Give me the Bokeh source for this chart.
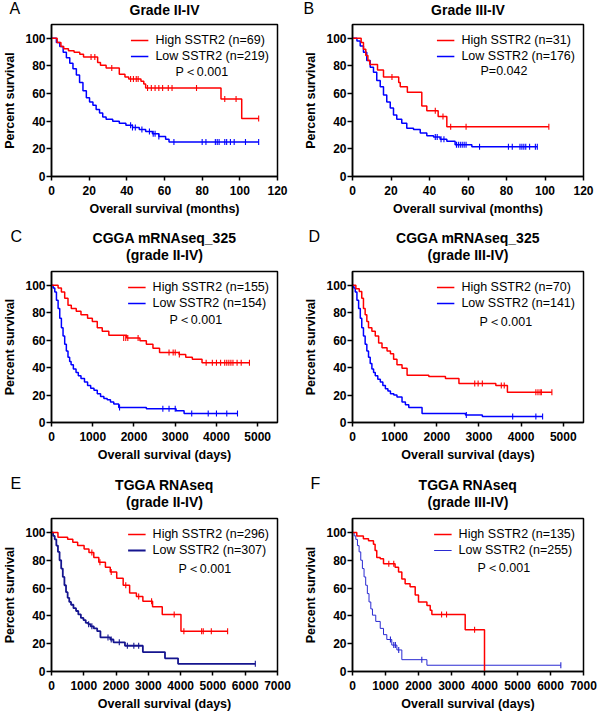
import numpy as np
from bokeh.plotting import figure
from bokeh.models import Range1d, FixedTicker, Title, Label, Legend, LegendItem
from bokeh.layouts import column, row
from bokeh.embed import file_html
from bokeh.resources import INLINE

FONT = "Liberation Sans"
RED = "#ff0000"

# ---------------- Panel A (months) ----------------
a_hi_t = [0, 3, 5, 6.5, 9, 12, 15, 17, 24.5, 26, 29, 36, 39, 41, 47.5, 49, 50, 90, 101, 110]
a_hi_s = [100, 97, 94, 92.5, 91, 90, 88.5, 86.5, 82.5, 80.5, 78.5, 74, 72, 70.5, 69, 67, 64, 56, 42, 42]
a_hi_ct = [21, 23, 32, 42, 43.5, 45, 46, 51, 53, 55, 57, 59, 62, 64, 77, 92, 98, 110]
a_hi_cs = [86.5, 86.5, 78.5, 70.5, 70.5, 70.5, 70.5, 64, 64, 64, 64, 64, 64, 64, 64, 56, 56, 42]
a_lo_t = [0, 2.6, 4.4, 6.2, 7.9, 9.7, 11.4, 13.2, 14.9, 16.7, 18.5, 20.2, 22, 23.7, 25.5, 27.2, 29,
          32.5, 36, 39.5, 43, 46.6, 50, 53.6, 57, 60.6, 62.4, 110]
a_lo_s = [100, 97, 94, 90, 86, 82, 78, 73.5, 68, 62, 57, 54, 51.5, 48.5, 46, 43, 41.5,
          40, 38.5, 37, 35.5, 34, 32.5, 31, 29, 27, 25, 25]
a_lo_ct = [42, 43, 44.5, 48, 52, 54, 55, 57, 65, 80, 82, 87, 88, 89, 92, 93, 95, 97, 103, 110]
a_lo_cs = [37, 35.5, 35.5, 34, 32.5, 31, 31, 29, 25, 25, 25, 25, 25, 25, 25, 25, 25, 25, 25, 25]

# ---------------- Panel B (months) ----------------
b_hi_t = [0, 4.5, 5.7, 6.9, 8, 9, 13, 16.1, 24, 24.8, 28.5, 36, 38.6, 44.5, 49, 102]
b_hi_s = [100, 97, 92, 87.5, 84, 81, 77, 72, 68, 65, 61, 51, 47.5, 43.5, 36, 36]
b_hi_ct = [20.5, 43, 47, 51, 59, 102]
b_hi_cs = [72, 47.5, 43.5, 36, 36, 36]
b_lo_t = [0, 2.3, 4, 5.7, 7.4, 9.2, 10.9, 12.6, 14.4, 16.1, 17.8, 19.6, 21.3, 23, 25.6, 28.2,
          31.7, 35.2, 38.6, 42.1, 45.5, 49, 53.3, 62, 96]
b_lo_s = [100, 98, 94.5, 90, 84, 79, 75.5, 69.5, 65, 59, 54, 49.5, 44.5, 41.5, 38.5, 35,
          34, 31.5, 29.5, 28.5, 27, 25.5, 23, 21.5, 21.5]
b_lo_ct = [43, 44, 46, 47.5, 54, 55, 56, 57, 58, 59, 66, 81, 83, 87, 88, 89, 90, 92, 95, 96]
b_lo_cs = [28.5, 28.5, 27, 27, 23, 23, 23, 23, 23, 23, 21.5, 21.5, 21.5, 21.5, 21.5, 21.5, 21.5, 21.5, 21.5, 21.5]

# ---------------- Panel C (days) ----------------
c_hi_t = [0, 160, 240, 320, 400, 480, 600, 715, 875, 990, 1110, 1230, 1390, 1825, 2145, 2300,
          2460, 2620, 3095, 3255, 3415, 3650, 4800]
c_hi_s = [100, 98, 95, 90.5, 85.5, 83, 81, 78.5, 76, 73.5, 69, 66.5, 63.5, 61.5, 59.5, 57,
          54, 51, 49.5, 47.5, 46, 43.5, 43.5]
c_hi_ct = [1750, 1800, 1850, 2100, 2850, 2950, 3000, 3100, 3750, 3900, 4000, 4100, 4200, 4250,
           4300, 4350, 4400, 4500, 4600, 4800]
c_hi_cs = [61.5, 61.5, 61.5, 61.5, 51, 51, 51, 49.5, 43.5, 43.5, 43.5, 43.5, 43.5, 43.5,
           43.5, 43.5, 43.5, 43.5, 43.5, 43.5]
c_lo_t = [0, 40, 80, 120, 160, 200, 240, 280, 320, 360, 400, 440, 475, 530, 595, 650, 715, 800,
          875, 950, 1030, 1110, 1190, 1270, 1350, 1430, 1510, 1630, 2300, 3020, 3215, 4510]
c_lo_s = [100, 98, 95, 89, 83, 76, 69, 63, 57, 52, 47.5, 44.5, 42, 39, 36.5, 34, 32, 29.5,
          27, 25, 23.5, 21, 19, 17.5, 16.5, 15, 13.5, 11, 10, 8.5, 6.5, 6.5]
c_lo_ct = [1650, 2700, 2850, 3000, 3400, 3800, 4000, 4250, 4510]
c_lo_cs = [11, 10, 10, 10, 6.5, 6.5, 6.5, 6.5, 6.5]

# ---------------- Panel D (days) ----------------
d_hi_t = [0, 80, 160, 220, 260, 300, 340, 380, 460, 540, 620, 700, 820, 900, 975, 1055, 1175,
          1295, 1810, 2205, 2525, 3400, 3675, 4730]
d_hi_s = [100, 97.5, 95.5, 90.5, 83, 78.5, 73.5, 69, 66.5, 63, 58, 54.5, 52, 50, 46, 42, 39.5,
          34.5, 33.5, 32, 28.5, 27, 22, 22]
d_hi_ct = [2900, 2980, 3080, 3530, 3600, 4350, 4400, 4450, 4480, 4730]
d_hi_cs = [28.5, 28.5, 28.5, 27, 27, 22, 22, 22, 22, 22]
d_lo_t = [0, 30, 65, 105, 145, 185, 220, 260, 300, 340, 380, 420, 460, 500, 540, 600, 660, 720,
          780, 840, 900, 980, 1055, 1175, 1255, 1335, 1650, 2680, 3080, 4510]
d_lo_s = [100, 98, 95, 89, 83, 76, 69, 63, 57, 52, 47.5, 43, 39, 36.5, 34, 31.5, 29.5, 27,
          24.5, 23, 21, 20, 18.5, 15, 13, 11, 6.5, 5.5, 4.3, 4.3]
d_lo_ct = [2700, 3800, 4350, 4510]
d_lo_cs = [5.5, 4.3, 4.3, 4.3]

# ---------------- Panel E (days) ----------------
e_hi_t = [0, 200, 500, 660, 810, 1010, 1160, 1310, 1465, 1670, 1820, 2020, 2220, 2420, 2630,
          2830, 3130, 3430, 4010, 5455]
e_hi_s = [100, 96.5, 95, 93, 90.5, 88, 85.5, 82, 78.5, 75, 71.5, 67, 62, 56.5, 54,
          50.5, 46.5, 41, 29, 29]
e_hi_ct = [1250, 1500, 1850, 2300, 2700, 3100, 3800, 4100, 4650, 4700, 4950, 5455]
e_hi_cs = [85.5, 78.5, 71.5, 62, 54, 50.5, 41, 29, 29, 29, 29, 29]
e_lo_t = [0, 50, 100, 150, 200, 250, 300, 350, 400, 450, 500, 550, 605, 680, 760, 830, 910, 990,
          1060, 1140, 1210, 1310, 1415, 1515, 1820, 1920, 2275, 2830, 3515, 3920, 6313]
e_lo_s = [100, 97.5, 95, 90.5, 86, 80, 74, 68, 62, 57, 53, 50, 48, 45.5, 43.5, 41, 38.5, 37,
          35, 34, 32.5, 31, 29, 24.5, 23, 21, 18.5, 14, 9.5, 5.5, 5.5]
e_lo_ct = [1150, 1250, 1750, 1850, 2100, 2350, 2550, 2700, 6313]
e_lo_cs = [34, 32.5, 24.5, 23, 21, 18.5, 18.5, 18.5, 5.5]

# ---------------- Panel F (days) ----------------
f_hi_t = [0, 130, 330, 485, 635, 685, 735, 840, 940, 1290, 1395, 1495, 1595, 1745, 1900, 2000,
          2255, 2355, 2405, 3415, 4000]
f_hi_s = [100, 97.5, 95.5, 94, 91.5, 87, 82, 81, 77.5, 75, 71.5, 66.5, 63, 61, 55, 50,
          47.5, 44, 41, 30, 0]
f_hi_ct = [1100, 1250, 2700, 2850, 3700]
f_hi_cs = [77.5, 77.5, 41, 41, 30]
f_lo_t = [0, 50, 100, 150, 200, 250, 300, 350, 400, 450, 500, 555, 605, 705, 840, 940, 1040,
          1190, 1345, 1495, 2255, 6313]
f_lo_s = [100, 97.5, 95, 90.5, 86, 80, 74, 68, 62, 56, 50, 45, 40.5, 36, 31, 26.5, 23,
          19, 15.5, 8.5, 4.5, 4.5]
f_lo_ct = [1150, 1250, 1300, 1400, 2100, 6313]
f_lo_cs = [23, 19, 19, 15.5, 8.5, 4.5]

y_ticks = [0, 20, 40, 60, 80, 100]
months_ticks = [0, 20, 40, 60, 80, 100, 120]
days5_ticks = [0, 1000, 2000, 3000, 4000, 5000]
days7_ticks = [0, 1000, 2000, 3000, 4000, 5000, 6000, 7000]

W = 300


def ttl(p, text, size, standoff, style="bold", align="center", offset=0):
    p.add_layout(Title(text=text, align=align, vertical_align="middle", offset=offset,
                       standoff=standoff, text_font=FONT, text_font_size=size,
                       text_font_style=style, text_color="black"), "above")


def panel(letter, titles, xlabel, xmax, xticks, hi, lo, n_hi, n_lo, ptext, left_col,
          height, top, bot, letter_off, letter_so, p_dx, p_dy, blue, blue_w, red_w=1.5):
    lb = 48 if left_col else 52
    rb = 23 if left_col else 17
    fw = W - lb - rb
    fh = height - top - bot
    p = figure(width=W, height=height, output_backend="svg", toolbar_location=None,
               x_range=Range1d(0, xmax), y_range=Range1d(0, 110), title_location=None,
               min_border_left=lb, min_border_right=rb, min_border_top=top,
               min_border_bottom=bot, background_fill_color="white",
               border_fill_color="white")
    p.xgrid.visible = False
    p.ygrid.visible = False
    p.outline_line_color = "black"
    p.outline_line_width = 1.5
    p.outline_line_alpha = 1.0
    p.xaxis.ticker = FixedTicker(ticks=xticks)
    p.yaxis.ticker = FixedTicker(ticks=y_ticks)
    p.xaxis.axis_label = xlabel
    p.yaxis.axis_label = "Percent survival"
    for ax in p.axis:
        ax.axis_line_color = "black"
        ax.axis_line_width = 1.5
        ax.major_tick_line_color = "black"
        ax.major_tick_line_width = 1.5
        ax.major_tick_in = 0
        ax.minor_tick_out = 0
        ax.minor_tick_in = 0
        ax.major_label_text_font = FONT
        ax.major_label_text_font_size = "12px"
        ax.major_label_text_font_style = "bold"
        ax.major_label_text_color = "black"
        ax.axis_label_text_font = FONT
        ax.axis_label_text_font_size = "12.5px"
        ax.axis_label_text_font_style = "bold"
        ax.axis_label_text_color = "black"
    p.xaxis.major_tick_out = 4
    p.yaxis.major_tick_out = 5
    p.xaxis.major_label_standoff = 5
    p.xaxis.axis_label_standoff = 4
    p.yaxis.major_label_standoff = 1
    p.yaxis.axis_label_standoff = 5

    ht, hs, hct, hcs = hi
    lt, ls, lct, lcs = lo
    r_lo = p.step(lt, ls, mode="after", line_color=blue, line_width=blue_w)
    c_lo = p.scatter(lct, lcs, marker="dash", angle=np.pi / 2, size=6,
                     line_color=blue, line_width=1.1)
    r_hi = p.step(ht, hs, mode="after", line_color=RED, line_width=red_w)
    c_hi = p.scatter(hct, hcs, marker="dash", angle=np.pi / 2, size=6,
                     line_color=RED, line_width=1.1)

    leg = Legend(items=[LegendItem(label=f"High SSTR2 (n={n_hi})", renderers=[r_hi, c_hi]),
                        LegendItem(label=f"Low SSTR2 (n={n_lo})", renderers=[r_lo, c_lo])],
                 location="top_right", margin=8, padding=5, spacing=0,
                 glyph_width=18, glyph_height=16, label_height=16, label_standoff=7,
                 label_text_font=FONT, label_text_font_size="12.5px",
                 label_text_color="black", border_line_color=None,
                 background_fill_alpha=0)
    p.add_layout(leg)

    # title stack, nearest the frame first
    if len(titles) == 1:
        ttl(p, "\u00a0", "14px", -4.3)               # spacer row
        ttl(p, titles[0], "14px", -16.5)             # zero-height row
    else:
        ttl(p, titles[1], "14px", 15)
        ttl(p, titles[0], "14px", -16.5)
    ttl(p, letter, "16px", letter_so, style="normal", align="left", offset=letter_off)

    p.add_layout(Label(x=fw - p_dx, y=fh - p_dy, x_units="screen", y_units="screen",
                       text=ptext, text_font=FONT, text_font_size="12.5px",
                       text_color="black", text_baseline="middle", text_align="left"))
    return p


H1, H2, H3 = 218, 246, 252
BLUE = "#0000ff"
pA = panel("A", ["Grade II-IV"], "Overall survival (months)", 120, months_ticks,
           (a_hi_t, a_hi_s, a_hi_ct, a_hi_cs), (a_lo_t, a_lo_s, a_lo_ct, a_lo_cs),
           69, 219, "P\uff1c0.001", True, H1, 24, 41, -42, -19, 105, 48, BLUE, 1.5)
pB = panel("B", ["Grade III-IV"], "Overall survival (months)", 120, months_ticks,
           (b_hi_t, b_hi_s, b_hi_ct, b_hi_cs), (b_lo_t, b_lo_s, b_lo_ct, b_lo_cs),
           31, 176, "P=0.042", False, H1, 24, 41, -49, -19, 103, 47, BLUE, 1.5)
pC = panel("C", ["CGGA mRNAseq_325", "(grade II-IV)"], "Overall survival (days)", 5480,
           days5_ticks,
           (c_hi_t, c_hi_s, c_hi_ct, c_hi_cs), (c_lo_t, c_lo_s, c_lo_ct, c_lo_cs),
           155, 154, "P\uff1c0.001", True, H2, 53, 41, -41, -19, 111, 49, BLUE, 1.5)
pD = panel("D", ["CGGA mRNAseq_325", "(grade III-IV)"], "Overall survival (days)", 5480,
           days5_ticks,
           (d_hi_t, d_hi_s, d_hi_ct, d_hi_cs), (d_lo_t, d_lo_s, d_lo_ct, d_lo_cs),
           70, 141, "P\uff1c0.001", False, H2, 53, 41, -44, -19, 104, 51, BLUE, 1.5)
pE = panel("E", ["TGGA RNAseq", "(grade II-IV)"], "Overall survival (days)", 7000,
           days7_ticks,
           (e_hi_t, e_hi_s, e_hi_ct, e_hi_cs), (e_lo_t, e_lo_s, e_lo_ct, e_lo_cs),
           296, 307, "P\uff1c0.001", True, H3, 54, 45, -41, -42, 102, 50, "#15158f", 1.8)
pF = panel("F", ["TGGA RNAseq", "(grade III-IV)"], "Overall survival (days)", 7000,
           days7_ticks,
           (f_hi_t, f_hi_s, f_hi_ct, f_hi_cs), (f_lo_t, f_lo_s, f_lo_ct, f_lo_cs),
           135, 255, "P\uff1c0.001", False, H3, 54, 45, -42, -40, 106, 49, "#2a2ad2", 1.0)

layout = column(row(pA, pB), row(pC, pD), row(pE, pF))
open("out.html", "w").write(file_html(layout, INLINE))
